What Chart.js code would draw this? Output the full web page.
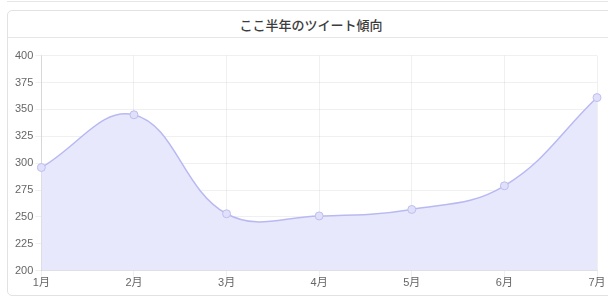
<!DOCTYPE html>
<html>
<head>
<meta charset="utf-8">
<script src="https://cdn.jsdelivr.net/npm/chart.js@4/dist/chart.umd.min.js"></script>
<style>
  html, body { margin: 0; padding: 0; background: #fff; width: 608px; height: 300px; overflow: hidden; }
  .topline { position: absolute; left: 7px; top: 1px; width: 610px; height: 0; border-top: 1px solid #e6e6e6; }
  .card { position: absolute; left: 7px; top: 10px; width: 620px; height: 286px; border: 1px solid #e2e2e2; border-radius: 5px; box-sizing: border-box; }
  .card-header { height: 26px; border-bottom: 1px solid #e6e6e6; text-align: center; line-height: 27px; font-family: "Noto Sans CJK JP", sans-serif; font-size: 13px; font-weight: 500; color: #3c3c3c; padding-right: 12px; }
  .chart-box { position: absolute; left: 0px; top: 47px; width: 608px; height: 243px; }
</style>
</head>
<body>
<div class="topline"></div>
<div class="card">
  <div class="card-header">ここ半年のツイート傾向</div>
</div>
<div class="chart-box"><canvas id="tweetChart"></canvas></div>
<script>
'use strict';

const months = ['1月', '2月', '3月', '4月', '5月', '6月', '7月'];
const tweetCounts = [296, 345, 253, 251, 257, 279, 361];

const FONT = { family: "'Liberation Sans', 'Noto Sans CJK JP', sans-serif", size: 11 };

const ctx = document.getElementById('tweetChart').getContext('2d');
new Chart(ctx, {
  type: 'line',
  data: {
    labels: months,
    datasets: [{
      data: tweetCounts,
      fill: true,
      tension: 0.4,
      borderColor: 'rgba(185,185,242,1)',
      backgroundColor: 'rgba(232,232,253,1)',
      borderWidth: 1.5,
      pointRadius: 4,
      pointBackgroundColor: 'rgba(224,224,250,1)',
      pointBorderColor: 'rgba(190,190,240,1)',
      pointBorderWidth: 1,
    }],
  },
  options: {
    responsive: true,
    maintainAspectRatio: false,
    animation: false,
    layout: { padding: { left: 13, right: 11, top: 8, bottom: 0 } },
    plugins: {
      legend: { display: false },
      tooltip: { enabled: false },
    },
    scales: {
      x: {
        grid: { color: 'rgba(0,0,0,0.06)', tickLength: 6 },
        ticks: { color: '#666', font: FONT, padding: 0, maxRotation: 0 },
      },
      y: {
        min: 200,
        max: 400,
        grid: { color: 'rgba(0,0,0,0.06)', tickLength: 6 },
        ticks: { color: '#666', font: FONT, stepSize: 25, padding: 2 },
      },
    },
  },
});
</script>
</body>
</html>
